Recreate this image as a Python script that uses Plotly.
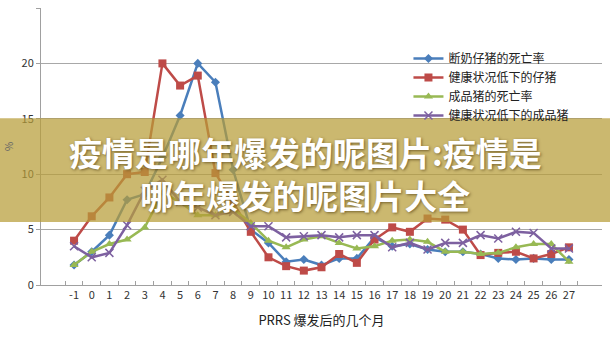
import plotly.graph_objects as go

months = [str(m) for m in range(-1, 28)]
names = ["断奶仔猪的死亡率", "健康状况低下的仔猪", "成品猪的死亡率", "健康状况低下的成品猪"]
weaned = [1.8, 3.0, 4.5, 7.7, 8.2, 11.5, 15.3, 20.0, 18.3, 10.4, 5.0, 3.8, 2.1, 2.3, 1.8,
          2.4, 2.4, 4.3, 3.5, 3.7, 3.2, 3.0, 3.0, 2.8, 2.4, 2.3, 2.4, 2.3, 2.3]
weak_piglets = [4.0, 6.2, 7.9, 10.0, 10.2, 20.0, 18.0, 18.9, 10.1, 7.5, 4.8, 2.5, 1.7, 1.3, 1.6,
                2.8, 2.0, 4.1, 5.2, 4.8, 6.0, 5.9, 5.0, 2.7, 2.9, 3.0, 2.4, 2.8, 3.4]
finisher = [1.8, 3.0, 3.7, 4.1, 5.2, 8.3, 7.5, 6.3, 6.3, 6.9, 5.6, 4.0, 3.4, 4.1, 4.4,
            3.8, 3.3, 3.5, 4.0, 4.1, 3.9, 3.0, 3.0, 2.8, 2.9, 3.4, 3.7, 3.7, 2.1]
weak_finisher = [3.5, 2.5, 2.9, 5.4, 8.5, 9.5, 7.5, 7.0, 6.3, 6.6, 5.3, 5.3, 4.3, 4.4, 4.5,
                 4.3, 4.5, 4.5, 3.4, 3.8, 3.2, 3.8, 3.8, 4.5, 4.2, 4.8, 4.7, 3.3, 3.3]
y_ticks = [0, 5, 10, 15, 20, 25]
banner_lines = ["疫情是哪年爆发的呢图片:疫情是", "哪年爆发的呢图片大全"]

series = [weaned, weak_piglets, finisher, weak_finisher]
colors = ["#4A7EBB", "#BE4B48", "#98B954", "#7D60A0"]
symbols = ["diamond", "square", "triangle-up", "x-thin"]
sizes = [7, 8, 8, 8]

fig = go.Figure()
for name, vals, c, s, sz in zip(names, series, colors, symbols, sizes):
    marker = dict(symbol=s, size=sz, color=c)
    if s == "x-thin":
        marker["line"] = dict(color=c, width=1.5)
    fig.add_trace(go.Scatter(x=months, y=vals, name=name, mode="lines+markers",
                             line=dict(color=c, width=2.5), marker=marker))

W, H = 610, 342
L, R, T, B = 41, 8, 8, 57

fig.update_layout(
    width=W, height=H,
    margin=dict(l=L, r=R, t=T, b=B),
    paper_bgcolor="white", plot_bgcolor="white",
    font=dict(family="Noto Sans CJK SC, DejaVu Sans", size=11, color="#333"),
    showlegend=True,
    legend=dict(x=0.655, y=0.87, xanchor="left", yanchor="top",
                bgcolor="rgba(0,0,0,0)", font=dict(size=12, color="#222"),
                tracegroupgap=0, itemwidth=30),
    xaxis=dict(type="category", showgrid=False, showline=True, linecolor="#A0A0A0",
               linewidth=1, ticks="inside", ticklen=4, tickcolor="#A0A0A0",
               tickson="boundaries", tickangle=0, tickfont=dict(size=11, color="#333"),
               title=dict(text="PRRS 爆发后的几个月", font=dict(size=13, color="#222"), standoff=14),
               fixedrange=True),
    yaxis=dict(range=[0, 25], tickvals=y_ticks, showgrid=True, gridcolor="#A8A8A8",
               gridwidth=1, showline=True, linecolor="#A0A0A0", ticks="outside",
               ticklen=4, tickcolor="#A0A0A0", zeroline=False,
               tickfont=dict(size=11, color="#333"),
               title=dict(text="%", font=dict(size=10, color="#666"), standoff=6)),
)

# banner overlay
fig.add_shape(type="rect", xref="paper", yref="y",
              x0=-L / (W - L - R) - 0.01, x1=1 + R / (W - L - R) + 0.01,
              y0=5.68, y1=15.05, fillcolor="rgba(183,157,55,0.72)",
              line=dict(width=0), layer="above")

fig.add_annotation(text="<b>" + banner_lines[0] + "</b><br><b>" + banner_lines[1] + "</b>",
                   xref="paper", yref="paper",
                   x=(305 - L) / (W - L - R), y=(H - B - 173) / (H - T - B),
                   showarrow=False, xanchor="center", yanchor="middle", align="center",
                   font=dict(family="Noto Sans CJK SC", size=33, color="white",
                             shadow="1px 1px 3px rgba(60,40,0,0.6)"))

fig.write_html("out.html")
